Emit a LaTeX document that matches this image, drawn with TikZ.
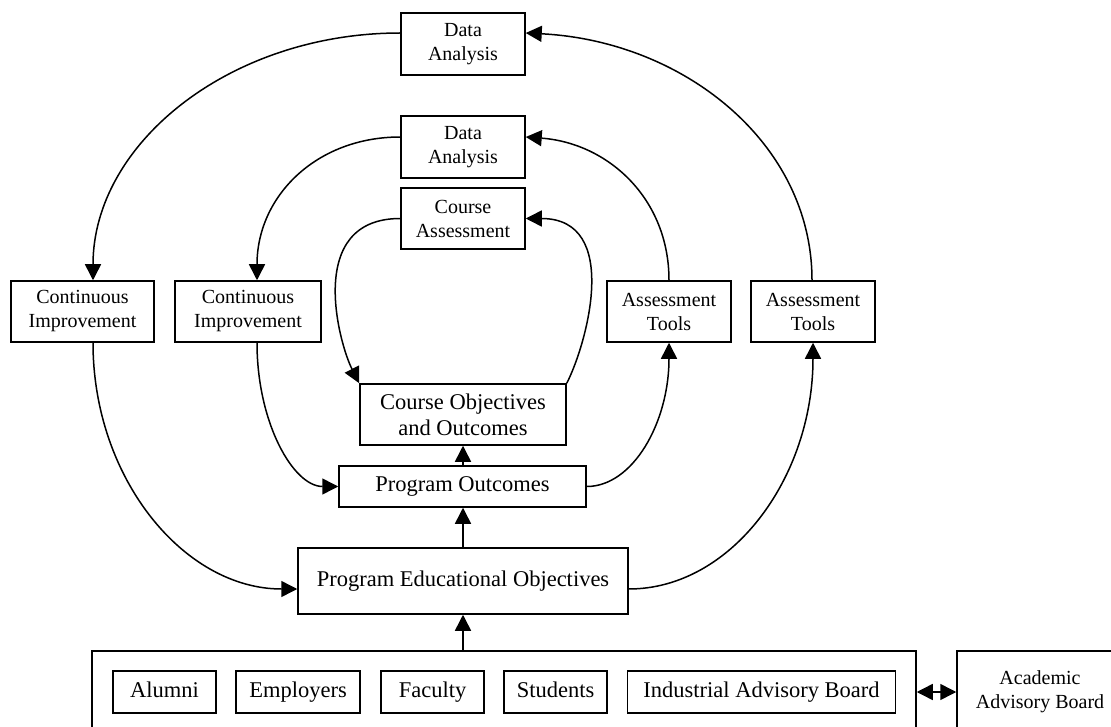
\documentclass[tikz,border=0pt]{standalone}
\usepackage{fontspec}
\setmainfont{Liberation Serif}
\usetikzlibrary{arrows.meta}
\begin{document}
\begin{tikzpicture}[x=1pt,y=-1pt,
  box/.style={draw,line width=1.5pt,inner sep=0pt,align=center,font=\fontsize{20}{24}\selectfont},
  bigtext/.style={font=\fontsize{22.5}{26}\selectfont},
  oneline/.style={text height=15.5pt,text depth=5pt},
  link/.style={line width=1.5pt,-{Triangle[length=16pt,width=16pt]}},
  twoway/.style={line width=1.5pt,{Triangle[length=16pt,width=16pt]}-{Triangle[length=16pt,width=16pt]}}]
\useasboundingbox (0,0) rectangle (1111,727);
\clip (0,0) rectangle (1111,727);

\node[box,minimum width=124pt,minimum height=62pt] (DA1) at (463,44) {Data\\Analysis};
\node[box,minimum width=124pt,minimum height=62pt] (DA2) at (463,147) {Data\\Analysis};
\node[box,minimum width=124pt,minimum height=61pt] (CA) at (463,218.5) {Course\\Assessment};
\node[box,minimum width=143pt,minimum height=61pt] (CI1) at (82.5,311.5) {Continuous\\Improvement};
\node[box,minimum width=146pt,minimum height=61pt] (CI2) at (248,311.5) {Continuous\\Improvement};
\node[box,minimum width=124pt,minimum height=61pt] (AT1) at (669,311.5) {Assessment\\Tools};
\node[box,minimum width=124pt,minimum height=61pt] (AT2) at (813,311.5) {Assessment\\Tools};
\node[box,bigtext,minimum width=206pt,minimum height=61pt] (CO) at (463,414.5) {Course Objectives\\and Outcomes};
\node[box,bigtext,oneline,minimum width=247pt,minimum height=41pt] (PO) at (462.5,486.5) {Program Outcomes};
\node[box,bigtext,oneline,minimum width=330pt,minimum height=66pt] (PEO) at (463,581) {Program Educational Objectives};
\node[box,minimum width=824pt,minimum height=82pt] (grp) at (504,692) {};
\node[box,bigtext,oneline,minimum width=103pt,minimum height=42pt] (alu) at (164.5,692) {Alumni};
\node[box,bigtext,oneline,minimum width=124pt,minimum height=42pt] (emp) at (298,692) {Employers};
\node[box,bigtext,oneline,minimum width=103pt,minimum height=42pt] (fac) at (432.5,692) {Faculty};
\node[box,bigtext,oneline,minimum width=103pt,minimum height=42pt] (stu) at (555.5,692) {Students};
\node[box,bigtext,oneline,minimum width=268pt,minimum height=42pt] (iab) at (761.5,692) {Industrial Advisory Board};
\node[box,minimum width=166pt,minimum height=82pt] (aab) at (1040,692) {Academic\\Advisory Board};

% straight arrows
\draw[link] (PEO.north) -- (PEO.north |- PO.south);
\draw[link] (PO.north -| CO.south) -- (CO.south);
\draw[link] (PEO.south |- grp.north) -- (PEO.south);
\draw[twoway] (grp.east) -- (aab.west);

% upper arcs
\draw[link] ([yshift=11pt]DA1.west) .. controls +(-170,0) and +(0,-137) .. ([xshift=10.5pt]CI1.north);
\draw[link] ([xshift=-1pt]AT2.north) .. controls +(0,-137) and +(158,8) .. ([yshift=11pt]DA1.east);
\draw[link] ([yshift=10pt]DA2.west) .. controls +(-84,0) and +(0,-84) .. ([xshift=9pt]CI2.north);
\draw[link] (AT1.north) .. controls +(0,-82) and +(82,6) .. ([yshift=10pt]DA2.east);
\draw[link] (CA.west) .. controls +(-96,0) and +(-20,-39) .. (CO.north west);
\draw[link] (CO.north east) .. controls +(20,-39) and +(96,0) .. (CA.east);

% lower arcs
\draw[link] ([xshift=10.5pt]CI1.south) .. controls +(0,136) and +(-113,0) .. ([yshift=-8pt]PEO.west);
\draw[link] ([xshift=9pt]CI2.south) .. controls +(0,80) and +(-45,0) .. (PO.west);
\draw[link] (PO.east) .. controls +(46,0) and +(0,80) .. (AT1.south);
\draw[link] ([yshift=-8pt]PEO.east) .. controls +(102,0) and +(0,136) .. (AT2.south);
\end{tikzpicture}
\end{document}
